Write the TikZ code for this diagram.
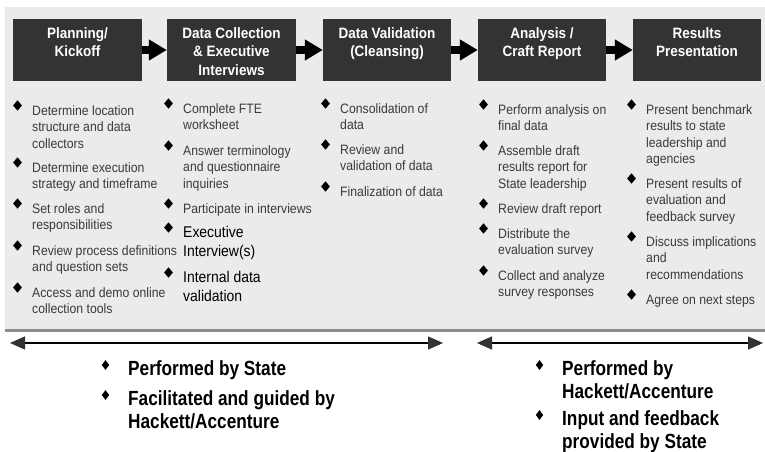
\documentclass[tikz,border=0pt]{standalone}
\usepackage{fontspec}
\setmainfont{Liberation Sans}
\newfontfamily\bodyf[FakeStretch=0.9]{Liberation Sans}
\newfontfamily\headf[FakeStretch=0.9]{Liberation Sans}
\newfontfamily\botf[FakeStretch=0.84]{Liberation Sans}
\usetikzlibrary{arrows.meta,shapes.geometric}
\definecolor{boxc}{HTML}{333333}
\definecolor{panelc}{HTML}{EBEBEB}
\definecolor{edgec}{HTML}{8C8C8C}
\definecolor{txtc}{HTML}{3A3A3A}
\newcommand\itm[4]{% name, x, yc, text
  \node[itemtext] (#1) at (#2,{#3-6.75}) {\strut #4};
  \node[bul] (#1b) at ({#2-14.5},{#3-4.5}) {};}
\newcommand\bitm[4]{% name, x, yc, text
  \node[bigtext] (#1) at (#2,{#3-7.8}) {\strut #4};
  \node[bul] (#1b) at ({#2-14.5},{#3-4.5}) {};}
\newcommand\botitm[4]{% name, x, yc, text
  \node[bottext] (#1) at (#2,{#3-8.45}) {\strut #4};
  \node[sbul] (#1b) at ({#2-22.5},{#3-3}) {};}
\begin{document}
\begin{tikzpicture}[x=1pt,y=-1pt,
  hbox/.style={fill=boxc, draw=none, minimum width=129pt, minimum height=62pt, inner sep=0pt},
  htext/.style={text=white, font=\headf\bfseries\fontsize{15}{18.5}\selectfont, align=center, anchor=north, inner sep=0pt},
  flow/.style={line width=8pt, -{Triangle[length=18pt,width=20pt]}, black},
  itemtext/.style={font=\bodyf\fontsize{13.6}{16.5}\selectfont, text=txtc, align=left, anchor=north west, inner sep=0pt},
  bigtext/.style={font=\bodyf\fontsize{15.5}{19}\selectfont, text=black, align=left, anchor=north west, inner sep=0pt},
  bottext/.style={font=\botf\bfseries\fontsize{20.5}{22.5}\selectfont, text=black, align=left, anchor=north west, inner sep=0pt},
  bul/.style={diamond, fill=black, inner sep=0pt, minimum width=9pt, minimum height=10.5pt},
  sbul/.style={diamond, fill=black, inner sep=0pt, minimum width=7.5pt, minimum height=10pt},
  span/.style={line width=1.2pt, black, {Triangle[length=15pt,width=13pt,color=boxc]}-{Triangle[length=15pt,width=13pt,color=boxc]}}
]
\useasboundingbox (0,0) rectangle (765,452);
\fill[white] (0,0) rectangle (765,452);
% panel
\fill[panelc] (5,7) rectangle (765,329);
\draw[edgec, line width=3pt] (5,330.5) -- (765,330.5);
% header boxes
\node[hbox] (b1) at (77.5,50) {};
\node[hbox, minimum width=129pt] (b2) at (231.5,50) {};
\node[hbox, minimum width=128pt] (b3) at (387,50) {};
\node[hbox, minimum width=128pt] (b4) at (542,50) {};
\node[hbox, minimum width=128pt] (b5) at (697,50) {};
\node[htext] (t1) at (77.5,25) {\strut Planning/\\Kickoff};
\node[htext] (t2) at (231.5,25) {\strut Data Collection\\\& Executive\\Interviews};
\node[htext] (t3) at (387,25) {\strut Data Validation\\(Cleansing)};
\node[htext] (t4) at (542,25) {\strut Analysis /\\Craft Report};
\node[htext] (t5) at (697,25) {\strut Results\\Presentation};
\draw[flow] (b1.east) -- (b2.west);
\draw[flow] (b2.east) -- (b3.west);
\draw[flow] (b3.east) -- (b4.west);
\draw[flow] (b4.east) -- (b5.west);
% column 1
\itm{a1}{32}{110}{Determine location\\structure and data\\collectors}
\itm{a2}{32}{167}{Determine execution\\strategy and timeframe}
\itm{a3}{32}{208}{Set roles and\\responsibilities}
\itm{a4}{32}{250}{Review process definitions\\and question sets}
\itm{a5}{32}{292}{Access and demo online\\collection tools}
% column 2
\itm{c1}{183}{108}{Complete FTE\\worksheet}
\itm{c2}{183}{150}{Answer terminology\\and questionnaire\\inquiries}
\itm{c3}{183}{208}{Participate in interviews}
\bitm{c4}{183}{232}{Executive\\Interview(s)}
\bitm{c5}{183}{277}{Internal data\\validation}
% column 3
\itm{d1}{340}{108}{Consolidation of\\data}
\itm{d2}{340}{149}{Review and\\validation of data}
\itm{d3}{340}{191}{Finalization of data}
% column 4
\itm{e1}{498}{109}{Perform analysis on\\final data}
\itm{e2}{498}{150}{Assemble draft\\results report for\\State leadership}
\itm{e3}{498}{208}{Review draft report}
\itm{e4}{498}{233}{Distribute the\\evaluation survey}
\itm{e5}{498}{275}{Collect and analyze\\survey responses}
% column 5
\itm{f1}{646}{109}{Present benchmark\\results to state\\leadership and\\agencies}
\itm{f2}{646}{183}{Present results of\\evaluation and\\feedback survey}
\itm{f3}{646}{241}{Discuss implications\\and\\recommendations}
\itm{f4}{646}{299}{Agree on next steps}
% span arrows
\coordinate (l1) at (10,343);
\coordinate (l2) at (443,343);
\coordinate (r1) at (477,343);
\coordinate (r2) at (763,343);
\draw[span] (l1) -- (l2);
\draw[span] (r1) -- (r2);
% bottom items
\botitm{g1}{128}{368}{Performed by State}
\botitm{g2}{128}{398}{Facilitated and guided by\\Hackett/Accenture}
\botitm{h1}{562}{368}{Performed by\\Hackett/Accenture}
\botitm{h2}{562}{418}{Input and feedback\\provided by State}
\end{tikzpicture}
\end{document}
